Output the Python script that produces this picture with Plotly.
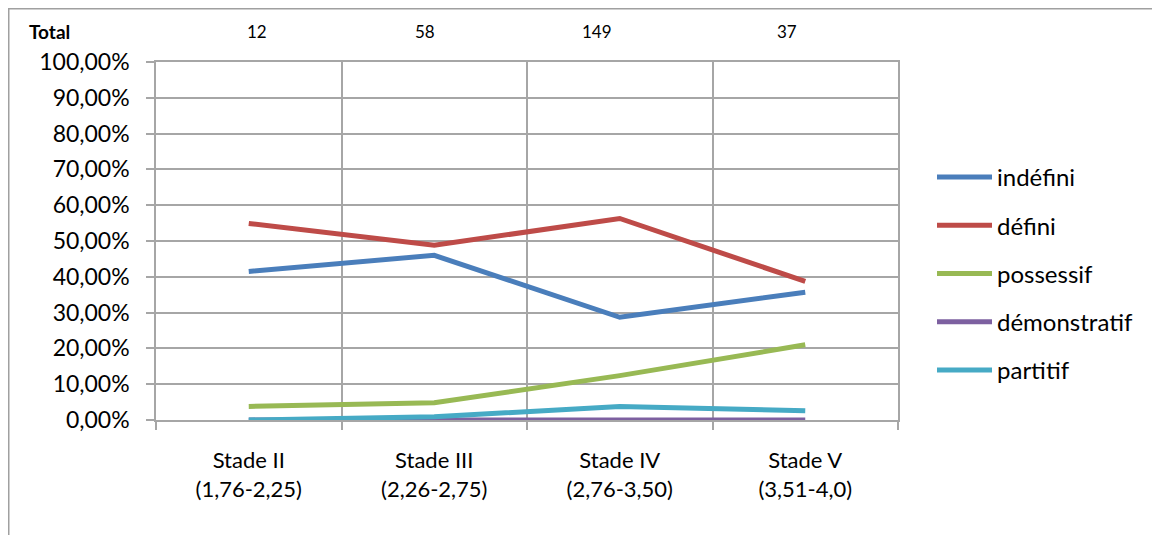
import plotly.graph_objects as go

categories = ["Stade II<br>(1,76-2,25)", "Stade III<br>(2,26-2,75)",
              "Stade IV<br>(2,76-3,50)", "Stade V<br>(3,51-4,0)"]
totals = [12, 58, 149, 37]

series_names = ["indéfini", "défini", "possessif", "démonstratif", "partitif"]
indefini = [0.415, 0.460, 0.287, 0.357]
defini = [0.549, 0.488, 0.563, 0.387]
possessif = [0.038, 0.048, 0.124, 0.210]
demonstratif = [0.0, 0.0, 0.0, 0.0]
partitif = [0.0, 0.009, 0.038, 0.026]
series_values = [indefini, defini, possessif, demonstratif, partitif]
colors = ["#4A7EBB", "#BE4B48", "#98B954", "#7D60A0", "#46AAC5"]

OFF = 8  # page body margin
W, H = 1160 - OFF, 535 - OFF
# plot area in reference (window) pixels: x 156..898, y 62..420
L = 156 - OFF
T = 62 - OFF
R = W - (898 - OFF)
B = H - (420 - OFF)
pw, ph = W - L - R, H - T - B

def px_x(px):
    return (px - OFF - L) / pw

def px_y(py):
    return (H - B - (py - OFF)) / ph

FONT = "Lato"
GRID = "#A6A6A6"

fig = go.Figure()
for i, (name, vals) in enumerate(zip(series_names, series_values)):
    fig.add_trace(go.Scatter(
        x=categories, y=vals, name=name, mode="lines",
        line=dict(color=colors[i], width=5),
        legendgroup=name,
    ))

fig.update_layout(
    width=W, height=H,
    margin=dict(l=L, r=R, t=T, b=B),
    paper_bgcolor="white", plot_bgcolor="white",
    separators=", ",
    font=dict(family=FONT, color="#000000", size=22),
    showlegend=True,
    legend=dict(
        x=px_x(932), y=px_y(155), xanchor="left", yanchor="top",
        font=dict(family=FONT, size=24, color="#000000"),
        traceorder="grouped", tracegroupgap=14, itemwidth=55,
        bgcolor="rgba(0,0,0,0)",
    ),
    xaxis=dict(
        type="category", range=[-0.5, 3.5],
        tickson="boundaries", showgrid=True, gridcolor=GRID, gridwidth=1.5,
        showline=True, linecolor=GRID, linewidth=1.5, mirror=True,
        ticks="outside", ticklen=8, tickcolor=GRID, tickwidth=1.5,
        tickfont=dict(family=FONT, size=22, color="#000000"),
        ticklabelstandoff=20,
        zeroline=False,
    ),
    yaxis=dict(
        range=[0, 1], dtick=0.1, tick0=0, tickformat=".2%",
        showgrid=True, gridcolor=GRID, gridwidth=1.5,
        showline=True, linecolor=GRID, linewidth=1.5, mirror=True,
        ticks="outside", ticklen=8, tickcolor=GRID, tickwidth=1.5,
        tickfont=dict(family=FONT, size=23, color="#000000"),
        ticklabelstandoff=12,
        zeroline=False,
    ),
)

# Outer chart frame
fig.add_shape(type="rect", xref="paper", yref="paper",
              x0=px_x(8.75), x1=px_x(1200), y0=px_y(600), y1=px_y(8.75),
              line=dict(color="#A0A0A0", width=1.5), fillcolor="rgba(0,0,0,0)",
              layer="below")

# Totals row
total_px = [257, 425, 597, 787]
fig.add_annotation(text="<b>Total</b>", xref="paper", yref="paper",
                   x=px_x(27), y=px_y(32), xanchor="left", yanchor="middle",
                   showarrow=False, font=dict(family=FONT, size=19, color="#000000"))
for t, pxv in zip(totals, total_px):
    fig.add_annotation(text=str(t), xref="paper", yref="paper",
                       x=px_x(pxv), y=px_y(32), xanchor="center", yanchor="middle",
                       showarrow=False, font=dict(family=FONT, size=17, color="#000000"))

fig.write_html("out.html")
